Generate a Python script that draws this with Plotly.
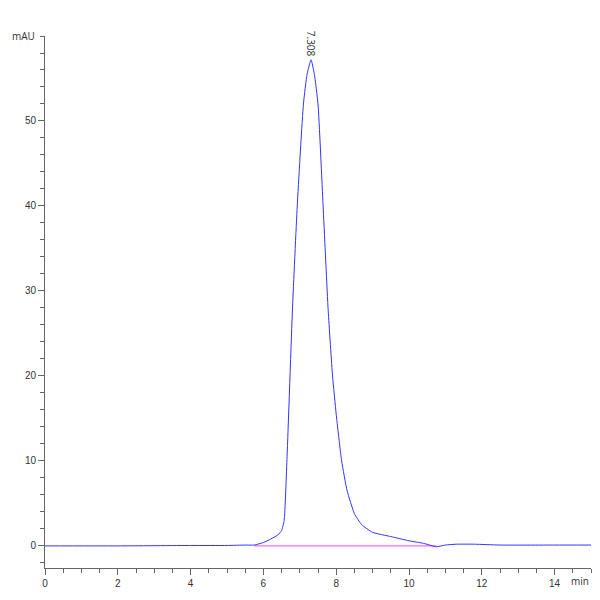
import plotly.graph_objects as go

t = [0, 2, 4, 5.0, 5.5, 5.75, 6.0, 6.2, 6.4, 6.5, 6.57, 6.65, 6.8, 6.93, 7.1, 7.2, 7.308, 7.4, 7.5, 7.64, 7.78, 7.9, 8.0, 8.15, 8.3, 8.5, 8.7, 9.0, 9.5, 10.0, 10.4, 10.75, 11.0, 11.3, 11.8, 12.5, 14, 15]
y = [0.0, 0.0, 0.05, 0.05, 0.1, 0.1, 0.4, 0.8, 1.3, 1.8, 3.0, 10.5, 28, 40, 52, 55.5, 57.2, 55.5, 52, 40, 27.7, 20, 15.5, 10.0, 6.5, 3.8, 2.5, 1.6, 1.1, 0.6, 0.3, -0.1, 0.1, 0.2, 0.2, 0.1, 0.1, 0.1]
base_t = [5.75, 10.75]
base_y = [0, 0]
peak_rt = 7.308
peak_h = 57.2
y_ticks = [0, 10, 20, 30, 40, 50]

fig = go.Figure()
fig.add_trace(go.Scatter(x=base_t, y=base_y, mode="lines", line=dict(color="#ff66ff", width=1.2)))
fig.add_trace(go.Scatter(x=t, y=y, mode="lines", line=dict(color="#3333ff", width=1, shape="spline", smoothing=0.5)))
fig.add_annotation(x=peak_rt, y=peak_h, text=f"{peak_rt:.3f}", textangle=90, showarrow=False,
                   yshift=16, font=dict(size=10, color="#333"))
fig.add_annotation(x=0, y=60, xref="paper", text="mAU", showarrow=False, xanchor="right", xshift=-8,
                   font=dict(size=10, color="#333"))
fig.add_annotation(x=1, y=0, xref="paper", yref="paper", text="min", showarrow=False, yshift=-22,
                   font=dict(size=10, color="#333"))
axis_common = dict(showgrid=False, zeroline=False, showline=True, linecolor="#666", ticks="outside",
                   ticklen=6, tickcolor="#666", automargin=False,
                   tickfont=dict(size=10, color="#333", family="Liberation Sans"))
fig.update_xaxes(range=[0, 15], dtick=2, minor=dict(dtick=0.5, ticks="outside", ticklen=4, tickcolor="#666"), **axis_common)
fig.update_yaxes(range=[-2.6, 60], tickvals=y_ticks, minor=dict(dtick=2, ticks="outside", ticklen=4, tickcolor="#666"), **axis_common)
fig.update_layout(width=600, height=600, margin=dict(l=37, r=17, t=28, b=40), showlegend=False,
                  plot_bgcolor="white", paper_bgcolor="white")
fig.write_html("out.html")
